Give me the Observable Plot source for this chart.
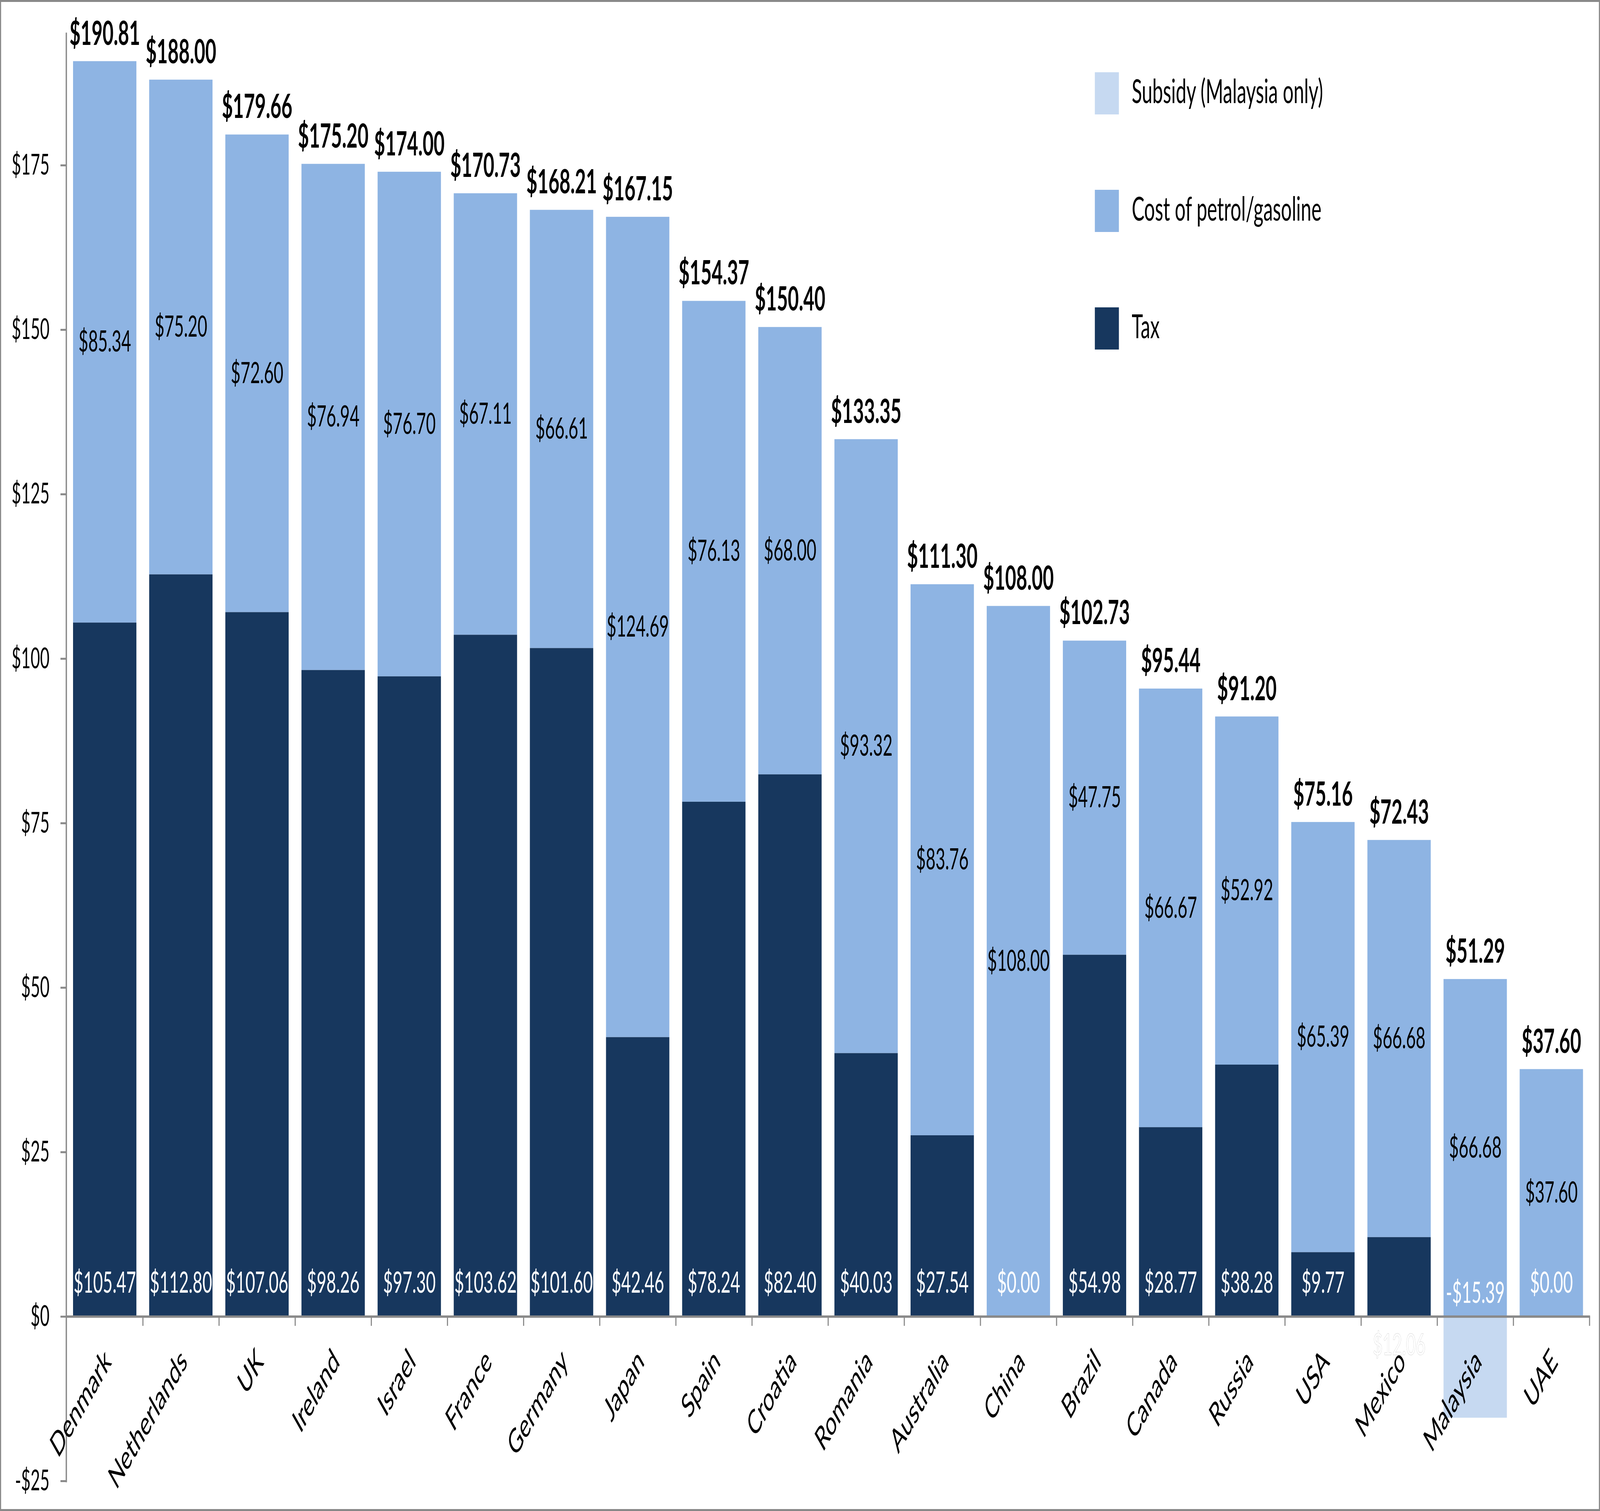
<!DOCTYPE html>
<html>
<head>
<meta charset="utf-8">
<script src="https://cdn.jsdelivr.net/npm/d3@7"></script>
<script src="https://cdn.jsdelivr.net/npm/@observablehq/plot@0.6"></script>
<style>
html, body { margin: 0; padding: 0; background: #fff; overflow: hidden; }
#wrap { position: absolute; left: 0; top: 0; width: 7250px; height: 3869px; overflow: hidden; font-family: Lato, "Open Sans", sans-serif; transform-origin: 0 0; }
#border { position: absolute; left: 0; top: 0; width: 7250px; height: 3869px; box-sizing: border-box; border: 5px solid #898989; pointer-events: none; }
#legend { position: absolute; left: 4961px; top: 185px; }
.lrow { position: absolute; left: 0; display: flex; align-items: center; white-space: nowrap; }
.sw { width: 109px; height: 108px; margin-right: 58px; }
.lt { font-size: 86px; color: #000; margin-top: -18px; }
</style>
</head>
<body>
<div id="wrap">
  <div id="chart"></div>
  <div id="legend"></div>
  <div id="border"></div>
</div>
<script>
// ---- data ----
const countries = ["Denmark","Netherlands","UK","Ireland","Israel","France","Germany","Japan","Spain","Croatia","Romania","Australia","China","Brazil","Canada","Russia","USA","Mexico","Malaysia","UAE"];
const totals = [190.81,188.00,179.66,175.20,174.00,170.73,168.21,167.15,154.37,150.40,133.35,111.30,108.00,102.73,95.44,91.20,75.16,72.43,51.29,37.60];
const costLabels = [85.34,75.20,72.60,76.94,76.70,67.11,66.61,124.69,76.13,68.00,93.32,83.76,108.00,47.75,66.67,52.92,65.39,66.68,66.68,37.60];
const taxes = [105.47,112.80,107.06,98.26,97.30,103.62,101.60,42.46,78.24,82.40,40.03,27.54,0.00,54.98,28.77,38.28,9.77,12.06,-15.39,0.00];
const yTicks = [-25,0,25,50,75,100,125,150,175];
const yDomain = [-25,195];
const seriesNames = ["Subsidy (Malaysia only)","Cost of petrol/gasoline","Tax"];
const seriesColors = ["#C6D9F1","#8EB4E3","#17375E"];

const [cSub, cCost, cTax] = seriesColors;
const axisGrey = "#898989";

const W = 7250, H = 3869;
const mL = 300, mR = 45, mT = 86, mB = 77;
const step = (W - mL - mR) / countries.length;
const pxPerUnit = (H - mT - mB) / (yDomain[1] - yDomain[0]);
const catTick = 24 / pxPerUnit;

const rows = countries.map((c, i) => ({country: c, total: totals[i], cost: costLabels[i], tax: taxes[i]}));
const fmt = v => (v < 0 ? "-$" : "$") + Math.abs(v).toFixed(2);
const fmtTick = v => (v < 0 ? "-$" : "$") + Math.abs(v);

const special = new Set(["Mexico", "Malaysia"]);

const chart = Plot.plot({
  width: W,
  height: H,
  marginLeft: mL,
  marginRight: mR,
  marginTop: mT,
  marginBottom: mB,
  style: {fontFamily: "Lato, 'Open Sans', sans-serif", color: "#000", background: "transparent", maxWidth: "none"},
  x: {domain: countries, paddingInner: 0.168, paddingOuter: 0.084, axis: null},
  y: {domain: yDomain, axis: null},
  marks: [
    Plot.barY(rows, {x: "country", y1: d => Math.max(d.tax, 0), y2: "total", fill: cCost}),
    Plot.barY(rows.filter(d => d.tax > 0), {x: "country", y1: () => 0, y2: "tax", fill: cTax}),
    Plot.barY(rows.filter(d => d.tax < 0), {x: "country", y1: () => 0, y2: "tax", fill: cSub}),
    Plot.frame({anchor: "left", stroke: axisGrey, strokeWidth: 6}),
    Plot.axisY({ticks: yTicks, tickFormat: fmtTick, tickSize: 26, tickPadding: 50, fontSize: 74, stroke: axisGrey, strokeWidth: 5, color: "#000", fill: "#000"}),
    Plot.ruleY([0], {stroke: axisGrey, strokeWidth: 6}),
    Plot.ruleX(countries, {x: d => d, y1: () => 0, y2: () => -catTick, dx: step / 2, stroke: axisGrey, strokeWidth: 5}),
    // category labels
    Plot.text(countries, {x: d => d, y: () => 0, text: d => d, rotate: -45, textAnchor: "end", lineAnchor: "middle", dx: 14, dy: 100, fontSize: 86, fill: "#000"}),
    // totals
    Plot.text(rows, {x: "country", y: "total", text: d => fmt(d.total), fontWeight: "bold", fontSize: 86, lineAnchor: "middle", dy: -70, fill: "#000"}),
    // cost labels
    Plot.text(rows, {x: "country", y: d => (Math.max(d.tax, 0) + d.total) / 2, text: d => fmt(d.cost), fontSize: 76, lineAnchor: "middle", fill: "#000"}),
    // tax labels
    Plot.text(rows.filter(d => !special.has(d.country)), {x: "country", y: () => 0, text: d => fmt(d.tax), fontSize: 76, lineAnchor: "middle", dy: -86, fill: "#fff"}),
    Plot.text(rows.filter(d => d.country === "Malaysia"), {x: "country", y: () => 0, text: d => fmt(d.tax), fontSize: 76, lineAnchor: "middle", dy: -60, fill: "#fff"}),
    Plot.text(rows.filter(d => d.country === "Mexico"), {x: "country", y: () => 0, text: d => fmt(d.tax), fontSize: 76, lineAnchor: "middle", dy: 73, fill: "#fff", stroke: "#c8c8c8", strokeWidth: 1.5})
  ]
});
document.getElementById("chart").appendChild(chart);

const legend = document.getElementById("legend");
seriesNames.forEach((name, i) => {
  const row = document.createElement("div");
  row.className = "lrow";
  row.style.top = (i * 301) + "px";
  const sw = document.createElement("div");
  sw.className = "sw";
  sw.style.background = seriesColors[i];
  const t = document.createElement("div");
  t.className = "lt";
  t.textContent = name;
  row.appendChild(sw);
  row.appendChild(t);
  legend.appendChild(row);
});

// The browser window may be narrower than the 7250×3869 design; fit the whole chart into it.
function fit() {
  const sx = Math.min(1, window.innerWidth / W);
  const sy = Math.min(1, window.innerHeight / H);
  document.getElementById("wrap").style.transform = `scale(${sx}, ${sy})`;
}
fit();
window.addEventListener("resize", fit);
</script>
</body>
</html>
